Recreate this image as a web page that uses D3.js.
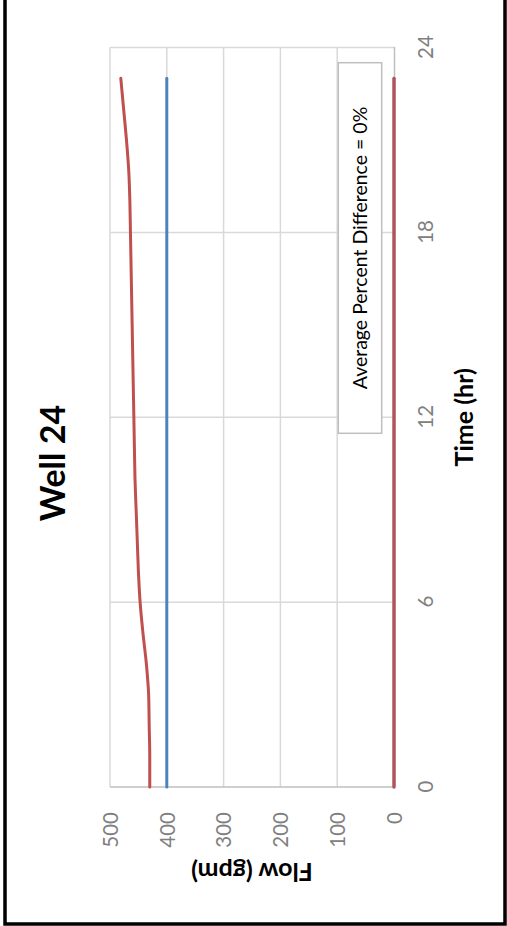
<!DOCTYPE html>
<html>
<head>
<meta charset="utf-8">
<script src="https://cdn.jsdelivr.net/npm/d3@7"></script>
<style>
  html, body { margin: 0; padding: 0; background: #fff; }
  svg { display: block; }
  text { font-family: Lato, "Open Sans", sans-serif; }
</style>
</head>
<body>
<svg id="chart" width="507" height="926"></svg>
<script>
// ---- data ----
const hours = [0,1,2,3,4,5,6,7,8,9,10,11,12,13,14,15,16,17,18,19,20,21,22,23];
const observedFlow = [430,430,431,432,436,442,447,450,452,454,456,457,458,459,460,461,462,463,464,465,467,471,476,481];
const modeledFlow  = [400,400,400,400,400,400,400,400,400,400,400,400,400,400,400,400,400,400,400,400,400,400,400,400];
const observedZero = [0,0,0,0,0,0,0,0,0,0,0,0,0,0,0,0,0,0,0,0,0,0,0,0];
const modeledZero  = [0,0,0,0,0,0,0,0,0,0,0,0,0,0,0,0,0,0,0,0,0,0,0,0];
const timeTicks = [0, 6, 12, 18, 24];
const flowTicks = [0, 100, 200, 300, 400, 500];
const titleText = "Well 24";
const xTitle = "Time (hr)";
const yTitle = "Flow (gpm)";
const noteText = "Average Percent Difference = 0%";

const RED = "#c0504d", BLUE = "#4f81bd";

const svg = d3.select("#chart");

// outer frame
svg.append("path")
  .attr("d", "M5,-5 V924 H505 V-5")
  .attr("fill", "none").attr("stroke", "#000").attr("stroke-width", 3.5);

// whole chart drawn unrotated, then turned 90° counter-clockwise
const g = svg.append("g").attr("transform", "translate(0,926) rotate(-90)");

const x = d3.scaleLinear().domain([0, 24]).range([139, 878.5]);
const y = d3.scaleLinear().domain([0, 500]).range([394, 110]);

// gridlines
g.append("g").selectAll("line").data(flowTicks.filter(d => d > 0)).join("line")
  .attr("x1", x(0)).attr("x2", x(24)).attr("y1", d => y(d)).attr("y2", d => y(d))
  .attr("stroke", "#d9d9d9").attr("stroke-width", 1.5);
g.append("g").selectAll("line").data(timeTicks).join("line")
  .attr("x1", d => x(d)).attr("x2", d => x(d)).attr("y1", y(0)).attr("y2", y(500))
  .attr("stroke", d => d === 0 ? "#bfbfbf" : "#d9d9d9").attr("stroke-width", 1.5);

// axes
const xAxis = g.append("g").attr("transform", `translate(0,${y(0)})`)
  .call(d3.axisBottom(x).tickValues(timeTicks).tickSize(0).tickFormat(d3.format("d")));
xAxis.select(".domain").attr("stroke", "#bfbfbf").attr("stroke-width", 1.5);
xAxis.selectAll("text").attr("y", 39).attr("dy", 0)
  .attr("fill", "#808080").style("font-size", "20.5px");

const yAxis = g.append("g").attr("transform", `translate(${x(0)},0)`)
  .call(d3.axisLeft(y).tickValues(flowTicks).tickSize(0).tickFormat(d3.format("d")));
yAxis.select(".domain").remove();
yAxis.selectAll("text").attr("x", -25).attr("dy", "0.36em")
  .attr("fill", "#808080").style("font-size", "20.5px");

// series
const line = d3.line().x((d, i) => x(hours[i])).y(d => y(d)).curve(d3.curveMonotoneX);
const series = [
  { values: modeledZero, color: BLUE },
  { values: observedZero, color: RED },
  { values: modeledFlow, color: BLUE },
  { values: observedFlow, color: RED }
];
g.append("g").selectAll("path").data(series).join("path")
  .attr("d", d => line(d.values))
  .attr("fill", "none").attr("stroke", d => d.color)
  .attr("stroke-width", 3).attr("stroke-linecap", "round").attr("stroke-linejoin", "round");

// note box
g.append("rect")
  .attr("x", 492.7).attr("y", 338.3).attr("width", 370.6).attr("height", 43.4)
  .attr("fill", "#fff").attr("stroke", "#bfbfbf").attr("stroke-width", 1.5);
g.append("text").attr("x", 678).attr("y", 367).attr("text-anchor", "middle")
  .attr("fill", "#000").style("font-size", "19.5px").text(noteText);

// titles
g.append("text").attr("x", 463).attr("y", 65).attr("text-anchor", "middle")
  .style("font-size", "34px").style("font-weight", "bold").attr("fill", "#000").text(titleText);
g.append("text").attr("x", (x(0) + x(24)) / 2).attr("y", 473).attr("text-anchor", "middle")
  .style("font-size", "25px").style("font-weight", "bold").attr("fill", "#000").text(xTitle);
g.append("text").attr("transform", `translate(63,${(y(0) + y(500)) / 2}) rotate(-90)`)
  .attr("text-anchor", "middle")
  .style("font-size", "25px").style("font-weight", "bold").attr("fill", "#000").text(yTitle);
</script>
</body>
</html>
